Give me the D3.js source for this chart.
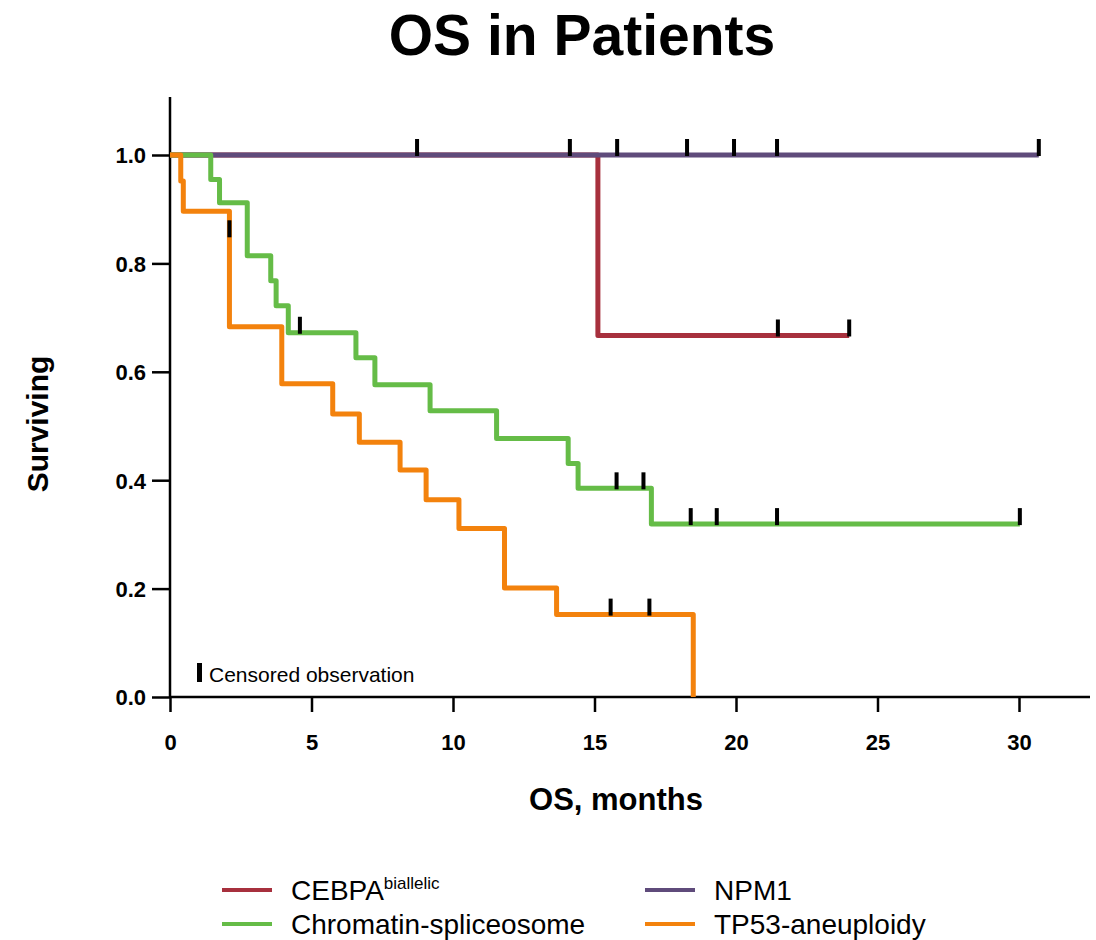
<!DOCTYPE html>
<html>
<head>
<meta charset="utf-8">
<script src="https://cdn.jsdelivr.net/npm/d3@7"></script>
<style>
  html, body { margin: 0; padding: 0; background: #fff; }
  svg { display: block; font-family: "Liberation Sans", Arial, Helvetica, sans-serif; }
</style>
</head>
<body>
<svg id="chart" width="1096" height="940"></svg>
<script>
// ---- Kaplan–Meier data: step times (months) and survival after each step ----
const groups = ["CEBPA", "Chromatin-spliceosome", "NPM1", "TP53-aneuploidy"];

const cebpaTimes = [0, 15.12];
const cebpaSurv  = [1.0, 0.667];
const cebpaEnd   = 24.0;
const cebpaCensorTimes = [21.48, 24.0];
const cebpaCensorSurv  = [0.667, 0.667];

const chromTimes = [0, 1.44, 1.75, 2.73, 3.56, 3.75, 4.18, 6.57, 7.24, 9.19, 11.54, 14.07, 14.42, 17.01];
const chromSurv  = [1.0, 0.955, 0.912, 0.814, 0.768, 0.722, 0.672, 0.626, 0.576, 0.528, 0.477, 0.431, 0.385, 0.319];
const chromEnd   = 30.03;
const chromCensorTimes = [4.59, 15.78, 16.73, 18.40, 19.32, 21.45, 30.03];
const chromCensorSurv  = [0.672, 0.385, 0.385, 0.319, 0.319, 0.319, 0.319];

const npm1Times = [0];
const npm1Surv  = [1.0];
const npm1End   = 30.7;
const npm1CensorTimes = [8.73, 14.13, 15.80, 18.27, 19.93, 21.45, 30.7];
const npm1CensorSurv  = [1.0, 1.0, 1.0, 1.0, 1.0, 1.0, 1.0];

const tp53Times = [0, 0.38, 0.47, 2.1, 3.95, 5.75, 6.69, 8.13, 9.05, 10.21, 11.82, 13.66, 18.49];
const tp53Surv  = [1.0, 0.952, 0.896, 0.683, 0.578, 0.522, 0.470, 0.419, 0.364, 0.311, 0.201, 0.152, 0.0];
const tp53End   = 18.49;
const tp53CensorTimes = [2.1, 15.57, 16.94];
const tp53CensorSurv  = [0.85, 0.152, 0.152];

const xTickValues = [0, 5, 10, 15, 20, 25, 30];
const yTickValues = [0.0, 0.2, 0.4, 0.6, 0.8, 1.0];

const colors = {
  "CEBPA": "#A7303D",
  "Chromatin-spliceosome": "#65BC47",
  "NPM1": "#5F4B7B",
  "TP53-aneuploidy": "#F3820D"
};

const series = [
  { name: "CEBPA", times: cebpaTimes, surv: cebpaSurv, end: cebpaEnd, cT: cebpaCensorTimes, cS: cebpaCensorSurv },
  { name: "NPM1", times: npm1Times, surv: npm1Surv, end: npm1End, cT: npm1CensorTimes, cS: npm1CensorSurv },
  { name: "Chromatin-spliceosome", times: chromTimes, surv: chromSurv, end: chromEnd, cT: chromCensorTimes, cS: chromCensorSurv },
  { name: "TP53-aneuploidy", times: tp53Times, surv: tp53Surv, end: tp53End, cT: tp53CensorTimes, cS: tp53CensorSurv }
];

// ---- layout ----
const svg = d3.select("#chart");
const x = d3.scaleLinear().domain([0, 30]).range([170, 1019]);
const y = d3.scaleLinear().domain([0, 1]).range([697, 155]);
const axisTop = 97, axisRight = 1090;

// title
svg.append("text")
  .attr("x", 582).attr("y", 55)
  .attr("text-anchor", "middle")
  .attr("font-size", 57).attr("font-weight", "bold")
  .text("OS in Patients");

// axes
const axisColor = "#000";
const yAxis = svg.append("g")
  .attr("transform", `translate(${x(0)},0)`)
  .call(d3.axisLeft(y).tickValues(yTickValues).tickSize(18).tickPadding(6).tickFormat(d3.format(".1f")));
const xAxis = svg.append("g")
  .attr("transform", `translate(0,${y(0)})`)
  .call(d3.axisBottom(x).tickValues(xTickValues).tickSize(15).tickPadding(22).tickFormat(d3.format("d")));
[yAxis, xAxis].forEach(g => {
  g.select(".domain").remove();
  g.selectAll(".tick line").attr("stroke", axisColor).attr("stroke-width", 2.5);
  g.selectAll(".tick text")
    .attr("fill", "#000")
    .attr("font-size", 22).attr("font-weight", "bold")
    .attr("font-family", "Liberation Sans, Arial, sans-serif");
});
yAxis.selectAll(".tick text").attr("dy", "0.36em");
// axis lines
svg.append("line")
  .attr("x1", x(0)).attr("x2", x(0)).attr("y1", axisTop).attr("y2", y(0))
  .attr("stroke", axisColor).attr("stroke-width", 2.5);
svg.append("line")
  .attr("x1", x(0)).attr("x2", axisRight).attr("y1", y(0)).attr("y2", y(0))
  .attr("stroke", axisColor).attr("stroke-width", 2.5);

// axis titles
svg.append("text")
  .attr("x", 616).attr("y", 810)
  .attr("text-anchor", "middle")
  .attr("font-size", 31).attr("font-weight", "bold")
  .text("OS, months");
svg.append("text")
  .attr("transform", "translate(48,424) rotate(-90)")
  .attr("text-anchor", "middle")
  .attr("font-size", 30).attr("font-weight", "bold")
  .text("Surviving");

// survival step curves
const line = d3.line()
  .x(d => x(d[0])).y(d => y(d[1]))
  .curve(d3.curveStepAfter);

const curves = svg.append("g");
series.forEach(s => {
  const pts = s.times.map((t, i) => [t, s.surv[i]]);
  const last = pts[pts.length - 1];
  if (s.end > last[0]) pts.push([s.end, last[1]]);
  curves.append("path")
    .attr("d", line(pts))
    .attr("fill", "none")
    .attr("stroke", colors[s.name])
    .attr("stroke-width", 5)
    .attr("stroke-linejoin", "round");
});

// censor ticks
const censors = svg.append("g");
series.forEach(s => {
  s.cT.forEach((t, i) => {
    censors.append("rect")
      .attr("x", x(t) - 2).attr("y", y(s.cS[i]) - 16)
      .attr("width", 4).attr("height", 17)
      .attr("fill", "#000");
  });
});

// censor key
svg.append("rect").attr("x", 197).attr("y", 663).attr("width", 5).attr("height", 19).attr("fill", "#000");
svg.append("text")
  .attr("x", 209).attr("y", 682)
  .attr("font-size", 21)
  .text("Censored observation");

// legend
const legendItems = [
  { name: "CEBPA", col: 0, row: 0, sup: "biallelic" },
  { name: "NPM1", col: 1, row: 0 },
  { name: "Chromatin-spliceosome", col: 0, row: 1 },
  { name: "TP53-aneuploidy", col: 1, row: 1 }
];
const colX = [222, 645], rowY = [890, 924];
const legend = svg.append("g");
legendItems.forEach(it => {
  const lx = colX[it.col], ly = rowY[it.row];
  legend.append("line")
    .attr("x1", lx).attr("x2", lx + 50).attr("y1", ly).attr("y2", ly)
    .attr("stroke", colors[it.name]).attr("stroke-width", 4);
  const t = legend.append("text")
    .attr("x", lx + 69).attr("y", ly + 10)
    .attr("font-size", 28);
  t.append("tspan").text(it.name);
  if (it.sup) {
    t.append("tspan").attr("font-size", 17).attr("dy", -11).text(it.sup);
  }
});
</script>
</body>
</html>
